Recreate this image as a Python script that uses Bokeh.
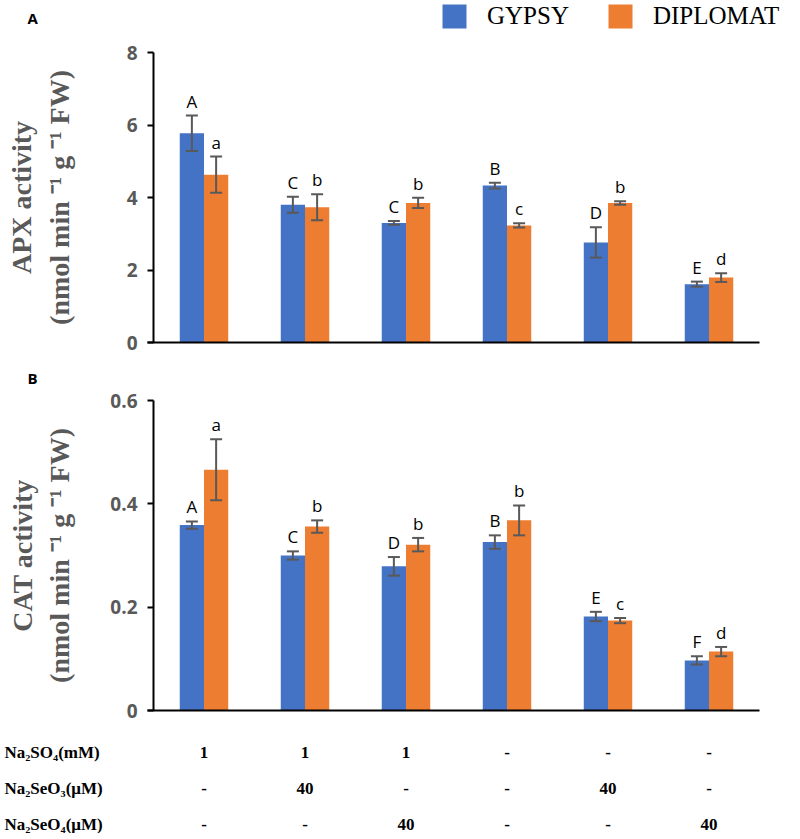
import numpy as np
from bokeh.plotting import figure
from bokeh.models import (Range1d, FixedTicker, Whisker, TeeHead, ColumnDataSource,
                          Legend, LegendItem, Label)
from bokeh.layouts import column
from bokeh.embed import file_html
from bokeh.resources import INLINE
from bokeh.core.properties import value

# ---------------- data ----------------
groups = [0, 1, 2, 3, 4, 5]
series_names = ["GYPSY", "DIPLOMAT"]

apx_gypsy = [5.77, 3.80, 3.30, 4.33, 2.76, 1.61]
apx_gypsy_err = [0.49, 0.22, 0.05, 0.08, 0.42, 0.07]
apx_dip = [4.63, 3.73, 3.85, 3.23, 3.85, 1.79]
apx_dip_err = [0.50, 0.36, 0.14, 0.06, 0.05, 0.12]
apx_gypsy_letters = ["A", "C", "C", "B", "D", "E"]
apx_dip_letters = ["a", "b", "b", "c", "b", "d"]

cat_gypsy = [0.359, 0.300, 0.279, 0.326, 0.182, 0.097]
cat_gypsy_err = [0.007, 0.008, 0.018, 0.013, 0.009, 0.008]
cat_dip = [0.466, 0.356, 0.321, 0.368, 0.174, 0.114]
cat_dip_err = [0.059, 0.012, 0.013, 0.029, 0.005, 0.009]
cat_gypsy_letters = ["A", "C", "D", "B", "E", "F"]
cat_dip_letters = ["a", "b", "b", "b", "c", "d"]

apx_ticks = [0, 2, 4, 6, 8]
cat_ticks = [0, 0.2, 0.4, 0.6]

row_names = ["Na\u2082SO\u2084(mM)", "Na\u2082SeO\u2083(\u03bcM)", "Na\u2082SeO\u2084(\u03bcM)"]
na2so4 = ["1", "1", "1", "-", "-", "-"]
na2seo3 = ["-", "40", "-", "-", "40", "-"]
na2seo4 = ["-", "-", "40", "-", "-", "40"]

# ---------------- style / layout ----------------
BLUE = "#4472C4"
ORANGE = "#ED7D31"
ERR = "#595959"
GRAY = "#595959"
W = 790
AXIS_PX = 153          # pixel position of the y axis
GROUP_PX = 101         # pixels per treatment group
BW = 0.24
X0 = -0.5 - AXIS_PX / GROUP_PX
X1 = -0.5 + (W - AXIS_PX) / GROUP_PX


def panel(g, ge, d, de, gl, dl, ticks, height, zero_px, axis_px, ylabel,
          label_standoff, letter, letter_top_px, with_legend):
    top = ticks[-1]
    px_per_y = axis_px / top
    y_end = zero_px / px_per_y
    y_start = -(height - zero_px) / px_per_y
    p = figure(width=W, height=height, x_range=Range1d(X0, X1),
               y_range=Range1d(y_start, y_end), output_backend="svg", toolbar_location=None,
               min_border=0)
    p.outline_line_color = None
    p.grid.visible = False
    p.background_fill_color = "white"
    p.border_fill_color = "white"

    xg = [x - BW / 2 for x in groups]
    xd = [x + BW / 2 for x in groups]
    src = ColumnDataSource(dict(
        xg=xg, xd=xd, g=g, d=d,
        gu=[v + e for v, e in zip(g, ge)], gl_=[v - e for v, e in zip(g, ge)],
        du=[v + e for v, e in zip(d, de)], dl_=[v - e for v, e in zip(d, de)],
        lg=gl, ld=dl))
    rg = p.vbar(x="xg", top="g", bottom=0, width=BW, source=src, fill_color=BLUE,
                line_color=None)
    rd = p.vbar(x="xd", top="d", bottom=0, width=BW, source=src, fill_color=ORANGE,
                line_color=None)
    for base, up, lo in (("xg", "gu", "gl_"), ("xd", "du", "dl_")):
        w = Whisker(source=src, base=base, upper=up, lower=lo, line_color=ERR, line_width=2,
                    level="overlay",
                    upper_head=TeeHead(size=12, line_color=ERR, line_width=2),
                    lower_head=TeeHead(size=12, line_color=ERR, line_width=2))
        p.add_layout(w)
    for xc, yc, tc in (("xg", "gu", "lg"), ("xd", "du", "ld")):
        p.text(x=xc, y=yc, text=tc, source=src, text_align="center", text_baseline="bottom",
               y_offset=-3, text_font=value("Open Sans"), text_font_size="17px",
               text_color="black")

    # axes
    p.yaxis.fixed_location = -0.5
    p.yaxis.bounds = (0, top)
    p.yaxis.ticker = FixedTicker(ticks=ticks)
    p.yaxis.major_label_overrides = {t: ("0" if t == 0 else str(t)) for t in ticks}
    p.yaxis.axis_line_width = 2
    p.yaxis.axis_line_color = "black"
    p.yaxis.major_tick_line_width = 2
    p.yaxis.major_tick_line_color = "black"
    p.yaxis.major_tick_in = 0
    p.yaxis.major_tick_out = 6
    p.yaxis.minor_tick_line_color = None
    p.yaxis.major_label_standoff = 10
    p.yaxis.major_label_text_font = "Open Sans"
    p.yaxis.major_label_text_font_style = "bold"
    p.yaxis.major_label_text_font_size = "19px"
    p.yaxis.major_label_text_color = GRAY
    p.yaxis.axis_label = ylabel
    p.yaxis.axis_label_text_font = "Liberation Serif"
    p.yaxis.axis_label_text_font_style = "bold"
    p.yaxis.axis_label_text_font_size = "28px"
    p.yaxis.axis_label_text_color = GRAY
    p.yaxis.axis_label_standoff = label_standoff

    p.xaxis.fixed_location = 0
    p.xaxis.bounds = (-0.56, 5.5)
    p.xaxis.ticker = FixedTicker(ticks=[])
    p.xaxis.axis_line_width = 2
    p.xaxis.axis_line_color = "black"
    p.xaxis.major_tick_line_color = None
    p.xaxis.minor_tick_line_color = None
    p.xaxis.major_label_text_font_size = "0px"
    p.xaxis.major_label_standoff = 0

    # panel letter
    p.add_layout(Label(x=-0.5 - (AXIS_PX - 27) / GROUP_PX, y=y_end - letter_top_px / px_per_y,
                       text=letter, text_font="Open Sans", text_font_style="bold",
                       text_font_size="15px", text_align="left", text_baseline="top",
                       text_color="black"))

    if with_legend:
        leg = Legend(items=[LegendItem(label=series_names[0], renderers=[rg]),
                            LegendItem(label=series_names[1], renderers=[rd])],
                     orientation="horizontal", location=(439, height - 31),
                     glyph_width=30, glyph_height=30, label_standoff=18, spacing=36,
                     padding=0, margin=0, border_line_color=None, background_fill_alpha=0,
                     label_text_font="Liberation Serif", label_text_font_size="25px",
                     label_text_color="black")
        p.add_layout(leg)
    return p


pA = panel(apx_gypsy, apx_gypsy_err, apx_dip, apx_dip_err, apx_gypsy_letters,
           apx_dip_letters, apx_ticks, 360, 342, 290,
           "APX activity\n(nmol min \u207b\u00b9 g \u207b\u00b9 FW)", 49, "A", 7, True)
pB = panel(cat_gypsy, cat_gypsy_err, cat_dip, cat_dip_err, cat_gypsy_letters,
           cat_dip_letters, cat_ticks, 365, 350, 310,
           "CAT activity\n(nmol min \u207b\u00b9 g \u207b\u00b9 FW)", 32, "B", 7, False)

# ---------------- treatment table ----------------
TH = 108
row_px = 36
first_row = 27
yt = Range1d(start=(TH - first_row) / row_px, end=-first_row / row_px)
pt = figure(width=W, height=TH, x_range=Range1d(X0, X1), y_range=yt,
            output_backend="svg", toolbar_location=None, min_border=0)
pt.axis.visible = False
pt.grid.visible = False
pt.outline_line_color = None
rows = [na2so4, na2seo3, na2seo4]
tsrc = ColumnDataSource(dict(
    x=groups * 3,
    y=[r for r in range(3) for _ in groups],
    t=[v for row in rows for v in row]))
pt.text(x="x", y="y", text="t", source=tsrc, text_align="center", text_baseline="middle",
        text_font=value("Liberation Serif"), text_font_style="bold", text_font_size="17px",
        text_color="black")
lsrc = ColumnDataSource(dict(x=[X0] * 3, y=[0, 1, 2], t=row_names))
pt.text(x="x", y="y", text="t", source=lsrc, text_align="left", text_baseline="middle",
        x_offset=4, text_font=value("Liberation Serif"), text_font_style="bold",
        text_font_size="17px", text_color="black")

layout = column(pA, pB, pt, spacing=0)
open("out.html", "w").write(file_html(layout, INLINE))
